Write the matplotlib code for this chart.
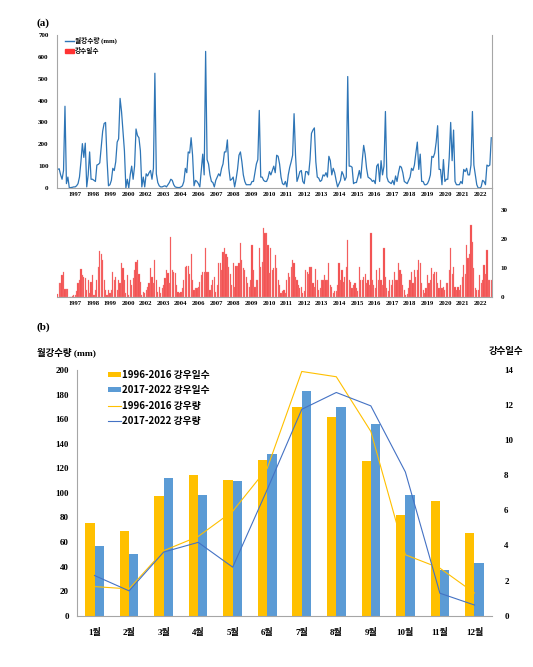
import matplotlib
matplotlib.use('Agg')
import matplotlib.pyplot as plt
import numpy as np
from matplotlib.lines import Line2D
from matplotlib.patches import Patch

SERIF = ['Liberation Serif', 'Noto Sans CJK KR']
KOR = ['Noto Sans CJK KR', 'DejaVu Sans']
plt.rcParams['font.family'] = SERIF
plt.rcParams['font.weight'] = 'bold'

# ---------------- (a) monthly series ----------------
years = [1996, 1997, 1998, 1999, 2000, 2002, 2003, 2004, 2006, 2007, 2008, 2009,
         2010, 2011, 2012, 2013, 2014, 2015, 2016, 2017, 2018, 2019, 2020, 2021, 2022]

# monthly rainfall (mm), one row per year
rain_mm = [
    85, 88, 60, 40, 80, 374, 20, 50, 0, 2, 3, 5,
    5, 10, 20, 50, 120, 203, 140, 205, 5, 60, 165, 40,
    40, 35, 30, 105, 108, 115, 185, 260, 295, 300, 130, 10,
    15, 35, 90, 80, 120, 210, 225, 410, 350, 260, 170, 0,
    40, 0, 60, 100, 40, 100, 270, 240, 230, 170, 5, 50,
    5, 65, 55, 70, 80, 40, 90, 525, 65, 25, 10, 5,
    5, 8, 10, 5, 15, 25, 40, 35, 15, 5, 3, 2,
    2, 5, 10, 30, 90, 70, 165, 160, 230, 150, 10, 35,
    30, 20, 5, 80, 155, 60, 625, 130, 110, 60, 30, 25,
    5, 35, 50, 65, 55, 90, 110, 165, 165, 220, 90, 35,
    40, 50, 5, 40, 85, 150, 165, 120, 60, 30, 15, 15,
    15, 15, 30, 30, 70, 110, 130, 355, 50, 50, 35, 30,
    30, 45, 75, 60, 80, 100, 70, 150, 145, 110, 50, 20,
    15, 30, 5, 60, 95, 120, 150, 340, 150, 30, 50, 75,
    80, 30, 20, 75, 75, 60, 130, 250, 265, 275, 120, 50,
    45, 30, 35, 60, 55, 70, 50, 145, 125, 60, 90, 70,
    35, 5, 20, 35, 75, 60, 35, 50, 510, 100, 100, 95,
    20, 25, 25, 50, 80, 45, 125, 195, 155, 90, 50, 45,
    40, 30, 35, 20, 100, 110, 30, 125, 60, 100, 350, 50,
    30, 25, 20, 35, 15, 55, 30, 70, 100, 95, 70, 30,
    25, 20, 35, 50, 90, 80, 105, 160, 210, 85, 155, 30,
    30, 15, 15, 20, 35, 60, 145, 140, 160, 210, 285, 85,
    85, 15, 130, 30, 40, 40, 140, 300, 125, 265, 30, 15,
    15, 15, 30, 20, 85, 75, 90, 60, 60, 105, 350, 105,
    60, 15, 0, 0, 5, 35, 30, 15, 105, 100, 105, 230,
]

# monthly rain days, one row per year
rain_days = [
    1, 4.7, 4.7, 7.6, 8.7, 2.8, 2.8, 2.8, 0, 0, 0.5, 0.7,
    0.7, 2, 4.7, 6, 9.5, 7.6, 7, 6.4, 2.4, 5.9, 1.3, 5.3,
    7.6, 0.7, 2.4, 5.9, 10.5, 15.9, 15, 12.8, 5.9, 2.4, 0.7, 2.4,
    1.3, 2.4, 8.7, 5.9, 7, 2.4, 5.9, 4.7, 11.6, 9.9, 5.9, 1.3,
    7.6, 0.7, 5.9, 4, 6.4, 9.3, 12.2, 12.8, 8, 5.3, 0.7, 1.8,
    1.3, 2.4, 3.6, 4.7, 9.9, 7, 5, 12.8, 5.9, 1.8, 3.6, 1.3,
    3, 4, 6.4, 9.3, 8.2, 5, 20.8, 9.3, 8.7, 8.2, 4, 1.8,
    1.3, 1.8, 3, 6, 10.5, 10.7, 10.7, 8, 15, 5.9, 2.4, 3,
    3, 3.5, 5.3, 7.6, 8.7, 8.7, 16.8, 8.7, 8.7, 2.4, 4, 5.9,
    7, 1.8, 4, 11.6, 11.6, 9.3, 15.6, 16.8, 15, 13.9, 10.5, 8,
    4.1, 11.6, 3.6, 10.7, 10.7, 11.6, 18.5, 12.8, 9.9, 9.3, 7, 5,
    3.6, 5.9, 17.9, 9.3, 3.6, 5.9, 5.9, 16.8, 10.5, 12, 23.7, 22,
    22, 17.9, 8.2, 16.8, 9.3, 10, 14.5, 9.9, 5.9, 4, 1.3, 2,
    2.4, 1.3, 5.9, 8.2, 7, 10.5, 12.8, 11.6, 7, 5.9, 4, 3,
    3.6, 1.3, 2, 9.3, 8.7, 8, 10.5, 10.5, 5, 3.6, 9.5, 6,
    2.4, 3, 5.9, 5.9, 7.6, 5.9, 6, 11.6, 4, 3.6, 1.3, 2,
    2, 4, 11.6, 6, 9.3, 5.3, 7, 10.5, 19.7, 5.9, 5.3, 3,
    4, 4.7, 3, 2, 10.5, 6, 5.9, 7, 8, 5, 5.9, 4,
    22, 5.9, 4, 3, 9.3, 5.9, 9.9, 6, 4, 16.8, 7, 3,
    2, 5.9, 4, 5.9, 8.7, 6, 5.9, 11.6, 9.3, 8, 4, 2.4,
    0.7, 1, 3, 6, 8.7, 5, 9.3, 7, 9.3, 12.8, 11.6, 5,
    2.4, 1.5, 3, 7.6, 5, 6, 9.9, 8, 8.7, 8.7, 5, 3,
    5.9, 3, 3.6, 2.5, 4.7, 5, 9.3, 16.8, 8, 10.5, 3.6, 2.5,
    3.6, 2.5, 4, 7, 11, 8, 17.9, 13.3, 15, 24.8, 19, 10,
    3, 2.4, 2.4, 7.6, 4.7, 6, 11, 8, 16.2, 5.9, 5.9, 5.9,
]

year_labels = [str(y) for y in years[1:]]

# ---------------- (b) monthly climatology ----------------
months = ['1월', '2월', '3월', '4월', '5월', '6월', '7월', '8월', '9월', '10월', '11월', '12월']
days_1996_2016 = [5.3, 4.8, 6.8, 8.0, 7.75, 8.85, 11.9, 11.3, 8.8, 5.75, 6.55, 4.7]
days_2017_2022 = [4.0, 3.5, 7.85, 6.85, 7.7, 9.2, 12.8, 11.9, 10.95, 6.85, 2.6, 3.0]
rain_1996_2016 = [23.7, 21.8, 52.9, 64.5, 85, 120, 198.8, 194.5, 150, 49.6, 38.7, 18.5]
rain_2017_2022 = [32.7, 20.2, 51.8, 59.7, 39.5, 102.7, 168, 181.7, 170.8, 117, 18.3, 8.7]

W, H = 533, 667
fig = plt.figure(figsize=(W / 100, H / 100), dpi=100)

def rect(x0, y0, x1, y1):
    return [x0 / W, 1 - y1 / H, (x1 - x0) / W, (y1 - y0) / H]

GRID = '#A6A6A6'
LINE_BLUE = '#2E75B6'
BAR_RED = '#F24C4C'

idx = np.arange(len(rain_mm))
tick_pos = np.linspace(12, 291.5, len(year_labels))

# top panel: rainfall line
ax1 = fig.add_axes(rect(57, 35, 492, 188))
ax1.plot(idx, rain_mm, color=LINE_BLUE, lw=0.9)
ax1.set_xlim(-0.5, len(rain_mm) - 0.5)
ax1.set_ylim(0, 700)
ax1.set_yticks(range(0, 701, 100))
ax1.set_xticks(tick_pos)
ax1.set_xticklabels(year_labels)
ax1.tick_params(axis='y', labelsize=5, length=0, pad=6)
ax1.tick_params(axis='x', labelsize=4.8, length=0, pad=3)
ax1.spines['top'].set_visible(False)
for s in ['left', 'bottom', 'right']:
    ax1.spines[s].set_color(GRID)
    ax1.spines[s].set_linewidth(0.8)

ax1.legend(handles=[Line2D([], [], color=LINE_BLUE, lw=1.0),
                    Patch(color='#FF3333')],
           labels=['월강수량 (mm)', '강수일수'],
           loc='upper left', bbox_to_anchor=(65 / W, 1 - 37 / H),
           bbox_transform=fig.transFigure, frameon=False,
           prop={'family': SERIF, 'weight': 'bold', 'size': 4.8},
           handlelength=1.3, handletextpad=0.2, labelspacing=0.45,
           borderpad=0, borderaxespad=0)

# bottom panel: rain day bars
ax2 = fig.add_axes(rect(57, 188, 492, 297))
ax2.bar(idx, rain_days, width=0.8, color=BAR_RED, edgecolor='#F78A8A', linewidth=0.2)
ax2.set_xlim(-0.5, len(rain_days) - 0.5)
ax2.set_ylim(0, 109 / 2.9)
ax2.yaxis.tick_right()
ax2.set_yticks([0, 10, 20, 30])
ax2.set_xticks(tick_pos)
ax2.set_xticklabels(year_labels)
ax2.tick_params(axis='y', labelsize=5, length=0, pad=6)
ax2.tick_params(axis='x', labelsize=4.8, length=0, pad=3)
ax2.patch.set_visible(False)
for s in ['top', 'left']:
    ax2.spines[s].set_visible(False)
for s in ['bottom', 'right']:
    ax2.spines[s].set_color(GRID)
    ax2.spines[s].set_linewidth(0.8)

fig.text(43 / W, 1 - 23 / H, '(a)', ha='center', va='center', fontsize=8, weight='bold')

# ---------------- (b) ----------------
axb = fig.add_axes(rect(77.3, 370, 491.7, 615.7))
axr = axb.twinx()
x = np.arange(len(months))
w = 0.27
axr.bar(x - w / 2, days_1996_2016, w, color='#FFC000', label='1996-2016 강우일수')
axr.bar(x + w / 2, days_2017_2022, w, color='#5B9BD5', label='2017-2022 강우일수')
axb.plot(x, rain_1996_2016, color='#FFC000', lw=0.8, label='1996-2016 강우량')
axb.plot(x, rain_2017_2022, color='#4472C4', lw=0.8, label='2017-2022 강우량')
axb.set_zorder(axr.get_zorder() + 1)
axb.patch.set_visible(False)

axb.set_xlim(-0.5, 11.5)
axb.set_ylim(0, 200)
axr.set_ylim(0, 14)
axb.set_yticks(range(0, 201, 20))
axr.set_yticks(range(0, 15, 2))
axb.set_xticks(x)
axb.set_xticklabels(months)
axb.tick_params(axis='y', labelsize=6.5, length=0, pad=6)
axb.tick_params(axis='x', labelsize=6.5, length=0, pad=9)
axr.tick_params(axis='y', labelsize=6.5, length=0, pad=9)
for a in (axb, axr):
    for s in a.spines.values():
        s.set_visible(False)
axb.spines['left'].set_visible(True)
axb.spines['bottom'].set_visible(True)
axb.spines['left'].set_color(GRID)
axb.spines['bottom'].set_color(GRID)

h1, l1 = axr.get_legend_handles_labels()
h2, l2 = axb.get_legend_handles_labels()
axb.legend(h1 + h2, l1 + l2, loc='upper left', bbox_to_anchor=(108 / W, 1 - 370 / H),
           bbox_transform=fig.transFigure, frameon=False,
           prop={'family': KOR, 'weight': 'bold', 'size': 7},
           handlelength=1.3, handleheight=0.45, handletextpad=0.15, labelspacing=0.55,
           borderpad=0, borderaxespad=0)

fig.text(43 / W, 1 - 327 / H, '(b)', ha='center', va='center', fontsize=8, weight='bold')
fig.text(37 / W, 1 - 352 / H, '월강수량 (mm)', ha='left', va='center', fontsize=6.8,
         weight='bold', family=SERIF)
fig.text(506 / W, 1 - 351 / H, '강수일수', ha='center', va='center', fontsize=6.8,
         weight='bold', family=KOR)

fig.savefig('out.png', dpi=100)
